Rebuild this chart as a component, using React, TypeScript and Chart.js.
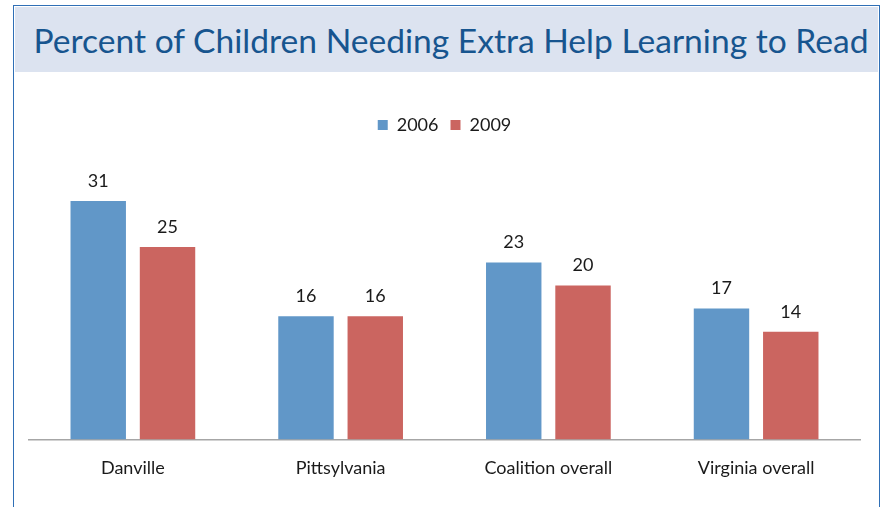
import React, { useEffect, useRef } from "react";
import { Chart, registerables } from "chart.js";

Chart.register(...registerables);

const categories = ["Danville", "Pittsylvania", "Coalition overall", "Virginia overall"];
const values2006 = [31, 16, 23, 17];
const values2009 = [25, 16, 20, 14];
const seriesLabels = ["2006", "2009"];
const titleText = "Percent of Children Needing Extra Help Learning to Read";

const BLUE = "#6197c8";
const RED = "#cb6560";

const valueLabels = {
  id: "valueLabels",
  afterDatasetsDraw(chart: any) {
    const ctx = chart.ctx;
    ctx.save();
    ctx.font = "18px Lato";
    ctx.fillStyle = "#1a1a1a";
    ctx.textAlign = "center";
    ctx.textBaseline = "middle";
    chart.data.datasets.forEach((ds: any, i: number) => {
      const meta = chart.getDatasetMeta(i);
      meta.data.forEach((bar: any, j: number) => {
        ctx.fillText(String(ds.data[j]), bar.x, bar.y - 20);
      });
    });
    ctx.restore();
  },
};

export default function App() {
  const ref = useRef<HTMLCanvasElement>(null);
  useEffect(() => {
    const chart = new Chart(ref.current as HTMLCanvasElement, {
      type: "bar",
      data: {
        labels: categories,
        datasets: [
          { label: seriesLabels[0], data: values2006, backgroundColor: BLUE },
          { label: seriesLabels[1], data: values2009, backgroundColor: RED },
        ],
      },
      options: {
        responsive: false,
        animation: false,
        devicePixelRatio: 1,
        layout: { padding: { left: 14, right: 17, top: 32, bottom: 18 } },
        datasets: { bar: { categoryPercentage: 0.667, barPercentage: 0.8 } },
        plugins: {
          legend: {
            display: true,
            position: "top",
            labels: {
              boxWidth: 10,
              boxHeight: 10,
              padding: 12,
              color: "#1a1a1a",
              font: { family: "Lato", size: 18 },
            },
          },
          tooltip: { enabled: false },
          title: { display: false },
        },
        scales: {
          x: {
            grid: { display: false },
            border: { display: true, color: "#a6a6a6", width: 1.5 },
            ticks: { color: "#1a1a1a", font: { family: "Lato", size: 18 }, padding: 10 },
          },
          y: {
            display: false,
            min: 0,
            max: 38.4,
          },
        },
      },
      plugins: [valueLabels],
    });
    return () => chart.destroy();
  }, []);

  return (
    <div style={{ position: "absolute", left: 0, top: 0, width: 886, height: 507, overflow: "hidden", background: "#fff" }}>
      <div
        style={{
          position: "absolute",
          left: 13,
          top: 5,
          width: 867,
          height: 520,
          border: "1.5px solid #2f6fb6",
          boxSizing: "border-box",
        }}
      />
      <div
        style={{
          position: "absolute",
          left: 15,
          top: 7,
          width: 863,
          height: 65,
          paddingLeft: 9,
          boxSizing: "border-box",
          background: "#dce3f0",
          display: "flex",
          alignItems: "center",
          justifyContent: "center",
          color: "#17558f",
          fontFamily: "Lato",
          fontSize: 33.6,
          whiteSpace: "nowrap",
        }}
      >
        {titleText}
      </div>
      <canvas ref={ref} width={862} height={435} style={{ position: "absolute", left: 15, top: 72, width: 862, height: 435 }} />
    </div>
  );
}
